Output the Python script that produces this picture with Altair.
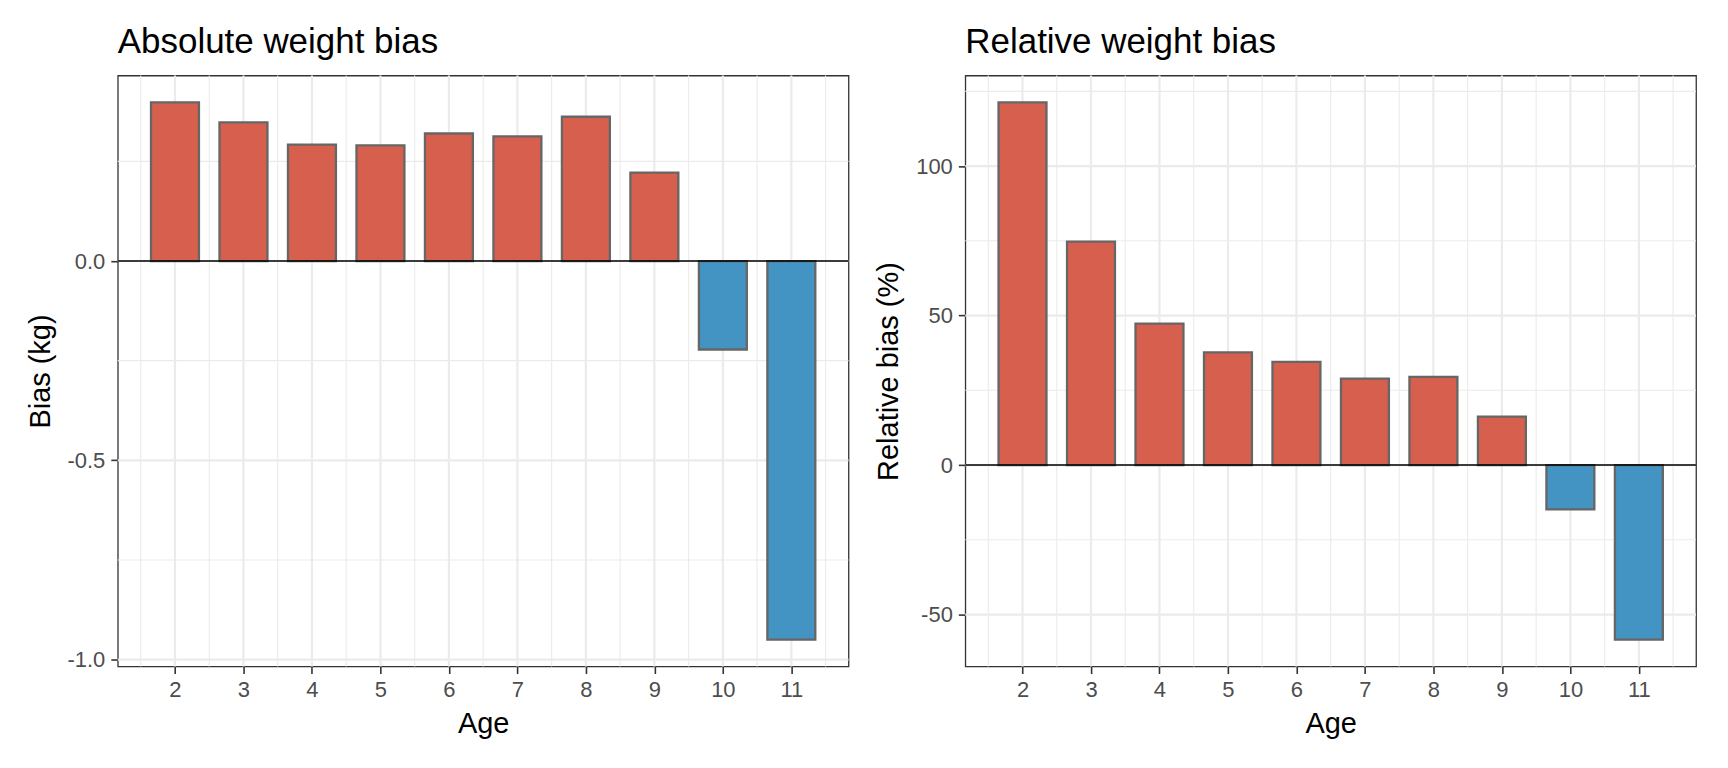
import altair as alt
import numpy as np
import pandas as pd

# Age classes and the two bias measures per age
ages = [2, 3, 4, 5, 6, 7, 8, 9, 10, 11]
abs_bias = [0.398, 0.348, 0.292, 0.290, 0.320, 0.313, 0.362, 0.222, -0.222, -0.950]
rel_bias = [121.3, 74.7, 47.3, 37.7, 34.5, 28.9, 29.5, 16.2, -14.8, -58.4]

# Axis breaks (major) and in-between grid lines (minor)
age_minor = [1.5, 2.5, 3.5, 4.5, 5.5, 6.5, 7.5, 8.5, 9.5, 10.5, 11.5]
abs_major = [-1.0, -0.5, 0.0]
abs_minor = [-0.75, -0.25, 0.25]
rel_major = [-50, 0, 50, 100]
rel_minor = [-25, 25, 75, 125]

BAR_WIDTH = 0.7
FONT = "Liberation Sans"
GRID = "#EBEBEB"
POS_FILL = "#D6604D"
NEG_FILL = "#4393C3"


def expanded(lo, hi, frac=0.05):
    pad = (hi - lo) * frac
    return [lo - pad, hi + pad]


def panel(values, title, y_title, major, minor, label_expr):
    df = pd.DataFrame({"age": ages, "bias": values})
    df["lo"] = df["age"] - BAR_WIDTH / 2
    df["hi"] = df["age"] + BAR_WIDTH / 2
    df["zero"] = 0.0
    df["sign"] = np.where(df["bias"] >= 0, "pos", "neg")

    x_scale = alt.Scale(domain=expanded(df["lo"].min(), df["hi"].max()), nice=False, zero=False)
    y_scale = alt.Scale(domain=expanded(min(values), max(values)), nice=False, zero=False)

    x_axis = alt.Axis(
        values=ages, grid=False, domain=False, labelAngle=0,
        tickSize=7, tickColor="#333333", tickWidth=1.6,
        labelColor="#4D4D4D", labelFontSize=22, labelPadding=6,
        titleFontSize=29, titleColor="black", titleFontWeight="normal", titlePadding=9,
    )
    y_axis = alt.Axis(
        values=major, grid=False, domain=False, labelExpr=label_expr,
        tickSize=7, tickColor="#333333", tickWidth=1.6,
        labelColor="#4D4D4D", labelFontSize=22, labelPadding=6,
        minExtent=51, maxExtent=51,
        titleFontSize=29, titleColor="black", titleFontWeight="normal", titlePadding=11,
    )

    # every layer carries the same axis definition so the merged axis keeps it
    def xenc(field):
        return alt.X(field, scale=x_scale, axis=x_axis, title="Age")

    def yenc(field):
        return alt.Y(field, scale=y_scale, axis=y_axis, title=y_title)

    minor_x = alt.Chart(pd.DataFrame({"v": age_minor})).mark_rule(
        color=GRID, strokeWidth=1.1).encode(x=xenc("v:Q"))
    minor_y = alt.Chart(pd.DataFrame({"v": minor})).mark_rule(
        color=GRID, strokeWidth=1.1).encode(y=yenc("v:Q"))
    major_x = alt.Chart(pd.DataFrame({"v": ages})).mark_rule(
        color=GRID, strokeWidth=2.2).encode(x=xenc("v:Q"))
    major_y = alt.Chart(pd.DataFrame({"v": major})).mark_rule(
        color=GRID, strokeWidth=2.2).encode(y=yenc("v:Q"))

    bars = alt.Chart(df).mark_bar(stroke="#666666", strokeWidth=2.3).encode(
        x=xenc("lo:Q"),
        x2="hi:Q",
        y=yenc("bias:Q"),
        y2="zero:Q",
        color=alt.Color("sign:N", scale=alt.Scale(domain=["pos", "neg"], range=[POS_FILL, NEG_FILL]), legend=None),
    )

    zero_line = alt.Chart(pd.DataFrame({"v": [0.0]})).mark_rule(
        color="black", strokeWidth=1.5).encode(y=yenc("v:Q"))

    return alt.layer(minor_x, minor_y, major_x, major_y, bars, zero_line).properties(
        width=732, height=592,
        title=alt.TitleParams(
            title, anchor="start", frame="group", fontSize=35, fontWeight="normal",
            color="black", font=FONT, baseline="bottom", offset=-21,
        ),
    )


left = panel(abs_bias, "Absolute weight bias", "Bias (kg)", abs_major, abs_minor,
             "replace(format(datum.value, '.1f'), '\u2212', '-')")
right = panel(rel_bias, "Relative weight bias", "Relative bias (%)", rel_major, rel_minor,
              "replace(format(datum.value, 'd'), '\u2212', '-')")

chart = alt.hconcat(left, right, spacing=117, bounds="flush").properties(
    padding={"left": 26, "top": 24, "right": 30, "bottom": 30},
    background="white",
).configure(font=FONT).configure_view(stroke="#333333", strokeWidth=1.3)

chart.save("out.html", embed_options={"renderer": "svg", "actions": False})
